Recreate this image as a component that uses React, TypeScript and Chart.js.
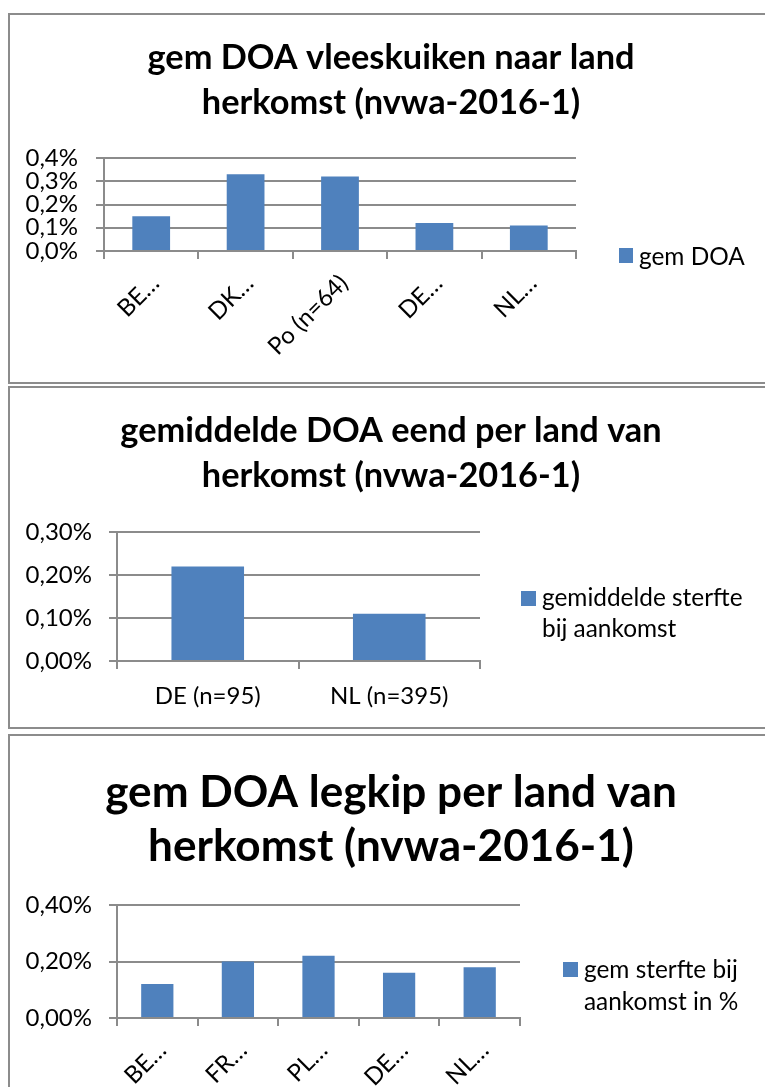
import React, { useEffect, useRef } from 'react';
import { Chart, registerables } from 'chart.js';

Chart.register(...registerables);

const FONT = 'Lato, "Open Sans", sans-serif';
const BAR_COLOR = '#4F81BD';
const GRID_COLOR = '#8B8B8B';
const BORDER_COLOR = '#8C8C8C';

// ---- Chart 1: vleeskuiken ----
const broilerTitle = ['gem DOA vleeskuiken naar land', 'herkomst (nvwa-2016-1)'];
const broilerCategories = ['BE…', 'DK…', 'Po (n=64)', 'DE…', 'NL…'];
const broilerDOA = [0.15, 0.33, 0.32, 0.12, 0.11];
const broilerSeries = 'gem DOA';
const broilerLegend = ['gem DOA'];
const broilerAxis = { max: 0.4, step: 0.1, decimals: 1 };

// ---- Chart 2: eend ----
const duckTitle = ['gemiddelde DOA eend per land van', 'herkomst (nvwa-2016-1)'];
const duckCategories = ['DE (n=95)', 'NL (n=395)'];
const duckDOA = [0.22, 0.11];
const duckSeries = 'gemiddelde sterfte bij aankomst';
const duckLegend = ['gemiddelde sterfte', 'bij aankomst'];
const duckAxis = { max: 0.3, step: 0.1, decimals: 2 };

// ---- Chart 3: legkip ----
const layerTitle = ['gem DOA legkip per land van', 'herkomst (nvwa-2016-1)'];
const layerCategories = ['BE…', 'FR…', 'PL…', 'DE…', 'NL…'];
const layerDOA = [0.12, 0.2, 0.22, 0.16, 0.18];
const layerSeries = 'gem sterfte bij aankomst in %';
const layerLegend = ['gem sterfte bij', 'aankomst in %'];
const layerAxis = { max: 0.4, step: 0.2, decimals: 2 };

const measureCtx = typeof document !== 'undefined' ? document.createElement('canvas').getContext('2d') : null;
function fitSize(text: string, weight: string, target: number): number {
  if (!measureCtx) return 20;
  measureCtx.font = `${weight} 100px ${FONT}`;
  const w = measureCtx.measureText(text).width;
  return Math.round(((100 * target) / w) * 10) / 10;
}

const sideLegend = {
  id: 'sideLegend',
  afterDraw(chart: any, _args: any, opts: any) {
    const ctx = chart.ctx;
    ctx.save();
    ctx.fillStyle = opts.color;
    ctx.fillRect(opts.boxX, opts.boxY, opts.boxW, opts.boxH);
    ctx.fillStyle = '#000';
    ctx.font = `${opts.size}px ${FONT}`;
    ctx.textBaseline = 'middle';
    ctx.textAlign = 'left';
    (opts.lines as string[]).forEach((l, i) => ctx.fillText(l, opts.textX, opts.textY + i * opts.lineGap));
    ctx.restore();
  },
};

type Spec = {
  boxTop: number;
  boxHeight: number;
  canvasW: number;
  canvasH: number;
  area: { left: number; top: number; right: number; bottom: number };
  titleSize: number;
  titleLH: number;
  titleCenter: number;
  tickSize: number;
  yPad: number;
  xPad: number;
  rotation: number;
  labelOffset: number;
  legend: { boxX: number; boxY: number; boxW: number; boxH: number; textX: number; textY: number; lineGap: number; size: number };
};

function BarPanel(props: {
  spec: Spec;
  title: string[];
  categories: string[];
  values: number[];
  series: string;
  legendLines: string[];
  axis: { max: number; step: number; decimals: number };
}) {
  const ref = useRef<HTMLCanvasElement | null>(null);
  const { spec, title, categories, values, series, legendLines, axis } = props;
  useEffect(() => {
    if (!ref.current) return;
    const a = spec.area;
    const titlePadTop = spec.titleCenter - spec.titleLH / 2;
    const titlePadBottom = a.top - titlePadTop - spec.titleLH * title.length;
    const chart = new Chart(ref.current, {
      type: 'bar',
      data: {
        labels: categories,
        datasets: [
          {
            label: series,
            data: values,
            backgroundColor: BAR_COLOR,
            borderWidth: 0,
            categoryPercentage: 1,
            barPercentage: 0.4,
          },
        ],
      },
      plugins: [sideLegend],
      options: {
        responsive: false,
        animation: false,
        devicePixelRatio: 1,
        layout: { padding: 0 },
        plugins: {
          legend: { display: false },
          tooltip: { enabled: false },
          title: {
            display: true,
            text: title,
            color: '#000',
            font: { family: FONT, size: spec.titleSize, weight: 'bold', lineHeight: spec.titleLH + 'px' },
            padding: { top: titlePadTop, bottom: titlePadBottom },
          },
          sideLegend: { ...spec.legend, color: BAR_COLOR, lines: legendLines },
        } as any,
        scales: {
          x: {
            position: 'bottom',
            grid: {
              display: true,
              drawOnChartArea: false,
              drawTicks: true,
              tickLength: 8,
              color: GRID_COLOR,
              lineWidth: 2,
              offset: true,
            },
            border: { display: true, color: GRID_COLOR, width: 2 },
            ticks: {
              color: '#000',
              font: { family: FONT, size: spec.tickSize, lineHeight: 1.2 },
              minRotation: spec.rotation,
              maxRotation: spec.rotation,
              autoSkip: false,
              padding: spec.xPad,
              labelOffset: spec.labelOffset,
            },
            afterFit: (s: any) => {
              s.height = spec.canvasH - a.bottom;
            },
          },
          y: {
            position: 'left',
            min: 0,
            max: axis.max,
            grid: { color: GRID_COLOR, lineWidth: 2, tickLength: 8, drawTicks: true },
            border: { display: true, color: GRID_COLOR, width: 2 },
            ticks: {
              stepSize: axis.step,
              autoSkip: false,
              color: '#000',
              padding: spec.yPad,
              font: { family: FONT, size: spec.tickSize },
              callback: (v: any) => Number(v).toFixed(axis.decimals).replace('.', ',') + '%',
            },
            afterFit: (s: any) => {
              s.width = a.left;
            },
          },
          pad: {
            type: 'linear',
            position: 'right',
            display: true,
            grid: { display: false },
            border: { display: false },
            ticks: { display: false },
            afterFit: (s: any) => {
              s.width = spec.canvasW - a.right;
            },
          },
        } as any,
      },
    });
    return () => chart.destroy();
  }, []);
  return (
    <div
      style={{
        position: 'absolute',
        left: 8,
        top: spec.boxTop,
        width: 766,
        height: spec.boxHeight,
        border: `2px solid ${BORDER_COLOR}`,
        boxSizing: 'border-box',
        background: '#fff',
      }}
    >
      <canvas ref={ref} width={spec.canvasW} height={spec.canvasH} style={{ display: 'block' }} />
    </div>
  );
}

export default function App() {
  const t12 = (fitSize(broilerTitle[0], 'bold', 491) + fitSize(broilerTitle[1], 'bold', 376)) / 2;
  const t3 = (fitSize(layerTitle[0], 'bold', 573) + fitSize(layerTitle[1], 'bold', 485)) / 2;
  const tick = (fitSize('0,4%', 'normal', 52) + fitSize('0,30%', 'normal', 67)) / 2;
  const legSize = (fitSize('gem DOA', 'normal', 102) + fitSize('gemiddelde sterfte', 'normal', 204) + fitSize('gem sterfte bij', 'normal', 157)) / 3;

  const spec1: Spec = {
    boxTop: 13,
    boxHeight: 371,
    canvasW: 762,
    canvasH: 367,
    area: { left: 94, top: 143, right: 566, bottom: 236 },
    titleSize: t12,
    titleLH: 45,
    titleCenter: 43,
    tickSize: tick,
    yPad: 18,
    xPad: 10,
    rotation: 45,
    labelOffset: 4,
    legend: { boxX: 609, boxY: 233, boxW: 14, boxH: 15, textX: 629, textY: 242, lineGap: 31, size: legSize },
  };
  const spec2: Spec = {
    boxTop: 386,
    boxHeight: 343,
    canvasW: 762,
    canvasH: 339,
    area: { left: 107, top: 144, right: 470, bottom: 273 },
    titleSize: t12,
    titleLH: 45,
    titleCenter: 43,
    tickSize: tick,
    yPad: 17,
    xPad: 13,
    rotation: 0,
    labelOffset: 0,
    legend: { boxX: 511, boxY: 203, boxW: 15, boxH: 15, textX: 532, textY: 210, lineGap: 31, size: legSize },
  };
  const spec3: Spec = {
    boxTop: 734,
    boxHeight: 370,
    canvasW: 762,
    canvasH: 352,
    area: { left: 107, top: 169, right: 510, bottom: 282 },
    titleSize: t3,
    titleLH: 54,
    titleCenter: 57,
    tickSize: tick,
    yPad: 17,
    xPad: 10,
    rotation: 45,
    labelOffset: 5,
    legend: { boxX: 553, boxY: 226, boxW: 15, boxH: 15, textX: 574, textY: 234, lineGap: 32, size: legSize },
  };

  return (
    <div style={{ position: 'fixed', left: 0, top: 0, width: 765, height: 1087, overflow: 'hidden', background: '#fff' }}>
      <BarPanel spec={spec1} title={broilerTitle} categories={broilerCategories} values={broilerDOA} series={broilerSeries} legendLines={broilerLegend} axis={broilerAxis} />
      <BarPanel spec={spec2} title={duckTitle} categories={duckCategories} values={duckDOA} series={duckSeries} legendLines={duckLegend} axis={duckAxis} />
      <BarPanel spec={spec3} title={layerTitle} categories={layerCategories} values={layerDOA} series={layerSeries} legendLines={layerLegend} axis={layerAxis} />
    </div>
  );
}
